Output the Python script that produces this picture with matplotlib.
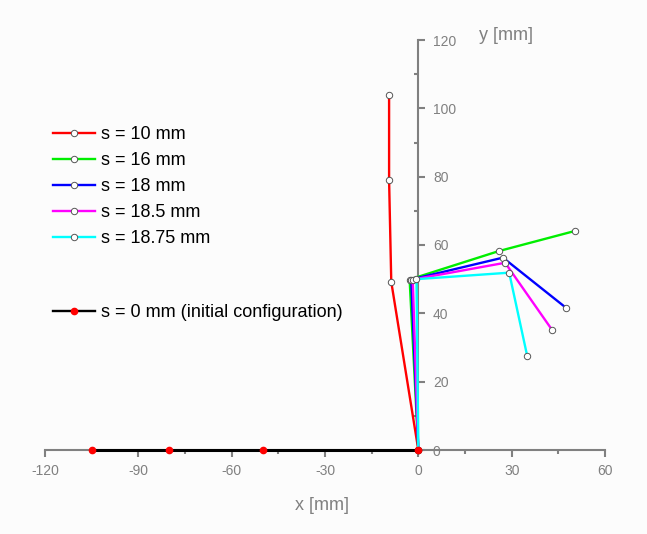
import matplotlib
matplotlib.use("Agg")
import matplotlib.pyplot as plt
from matplotlib.ticker import MultipleLocator
from matplotlib.lines import Line2D

plt.rcParams['font.family'] = ['Liberation Sans', 'DejaVu Sans']
plt.rcParams['axes.unicode_minus'] = False

# Data (joint coordinates, mm)
labels = ["s = 10 mm", "s = 16 mm", "s = 18 mm", "s = 18.5 mm", "s = 18.75 mm"]
colors = ["#ff0000", "#00ee00", "#0000ff", "#ff00ff", "#00ffff"]
xs = [
    [0, -8.7, -9.4, -9.4],
    [0, -2.8, 25.8, 50.3],
    [0, -2.3, 27.2, 47.5],
    [0, -1.8, 27.9, 43.1],
    [0, -0.6, 29.2, 35.0],
]
ys = [
    [0, 49.2, 79.0, 104.0],
    [0, 49.9, 58.2, 64.1],
    [0, 49.9, 56.3, 41.6],
    [0, 49.9, 54.8, 35.0],
    [0, 50.0, 51.9, 27.5],
]
init_label = "s = 0 mm (initial configuration)"
init_x = [0, -50, -80, -105]
init_y = [0, 0, 0, 0]

xticks = [-120, -90, -60, -30, 0, 30, 60]
yticks = [0, 20, 40, 60, 80, 100, 120]

bg = "#fcfcfc"
grey = "#808080"

fig = plt.figure(figsize=(6.47, 5.34), dpi=100, facecolor=bg)
ax = fig.add_axes([45/647, 84/534, 560/647, 410/534])
ax.set_facecolor(bg)

for x, y, c in zip(xs, ys, colors):
    ax.plot(x, y, color=c, lw=1.7, marker='o', ms=4.6, mfc='white',
            mec='#555555', mew=0.7, clip_on=False, zorder=3)
ax.plot(init_x, init_y, color='black', lw=2.2, marker='o', ms=4.5,
        mfc='#ff0000', mec='#ff0000', clip_on=False, zorder=4)

ax.set_xlim(-120, 60)
ax.set_ylim(0, 120)

ax.spines['top'].set_visible(False)
ax.spines['left'].set_visible(False)
ax.spines['right'].set_position(('data', 0))
for sp in ('right', 'bottom'):
    ax.spines[sp].set_color(grey)
    ax.spines[sp].set_linewidth(1.5)

ax.yaxis.set_ticks_position('right')
ax.set_xticks(xticks)
ax.set_yticks(yticks)
ax.xaxis.set_minor_locator(MultipleLocator(15))
ax.yaxis.set_minor_locator(MultipleLocator(10))
ax.tick_params(axis='both', which='both', colors=grey, labelcolor=grey,
               labelsize=10, width=1.5)
ax.tick_params(axis='x', which='major', direction='out', length=5, pad=5)
ax.tick_params(axis='x', which='minor', direction='out', length=3)
ax.tick_params(axis='y', which='major', direction='out', length=5, pad=5.5)
ax.tick_params(axis='y', which='minor', direction='in', length=3)

fig.text(322/647, 1 - 505/534, "x [mm]", color=grey, fontsize=13,
         ha='center', va='center')
fig.text(506/647, 1 - 35/534, "y [mm]", color=grey, fontsize=13,
         ha='center', va='center')

handles = [Line2D([], [], color=c, lw=1.7, marker='o', ms=4.6, mfc='white',
                  mec='#555555', mew=0.7) for c in colors]
leg1 = ax.legend(handles, labels, loc='upper left',
                 bbox_to_anchor=(53/647, 1 - 126/534), bbox_transform=fig.transFigure,
                 frameon=False, fontsize=13, handlelength=2.3, handletextpad=0.35,
                 labelspacing=0.5, borderpad=0, borderaxespad=0, numpoints=1)
ax.add_artist(leg1)
h2 = [Line2D([], [], color='black', lw=1.7, marker='o', ms=4.5,
             mfc='#ff0000', mec='#ff0000')]
ax.legend(h2, [init_label], loc='upper left',
          bbox_to_anchor=(53/647, 1 - 304/534), bbox_transform=fig.transFigure,
          frameon=False, fontsize=13, handlelength=2.3, handletextpad=0.35,
          borderpad=0, borderaxespad=0, numpoints=1)

fig.savefig("out.png", dpi=100, facecolor=bg)
